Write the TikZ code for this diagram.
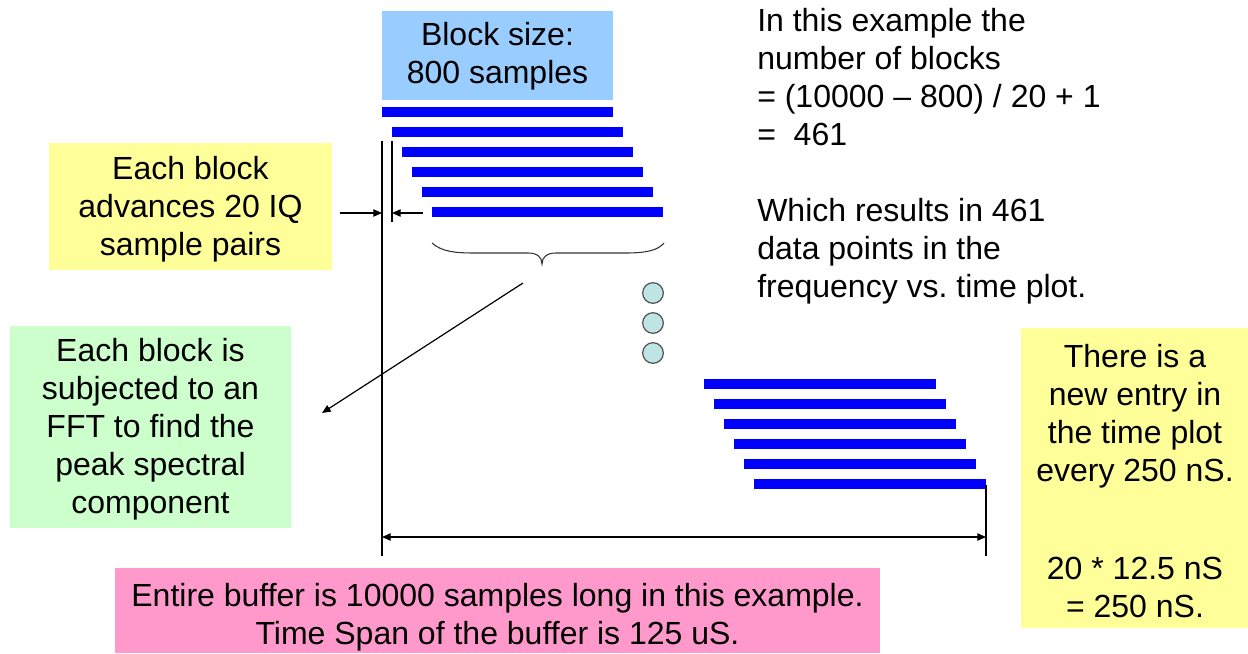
\documentclass[tikz,border=0pt]{standalone}
\usepackage{fontspec}
\setmainfont{Liberation Sans}
\usetikzlibrary{arrows.meta}
\frenchspacing
\definecolor{boxblue}{HTML}{99CCFF}
\definecolor{boxyellow}{HTML}{FFFF99}
\definecolor{boxgreen}{HTML}{CCFFCC}
\definecolor{boxpink}{HTML}{FF99CC}
\definecolor{barblue}{HTML}{0000FF}
\definecolor{dotfill}{HTML}{BEE4E4}
\definecolor{dotline}{HTML}{505050}
\tikzset{
  txt/.style={font=\fontsize{24}{28.5}\selectfont, align=center, inner sep=0pt, text=black},
  bar/.style={line width=6.9pt, barblue},
  thin/.style={line width=0.9pt, black},
  tip/.style={-{Triangle[length=6.5pt,width=5.5pt]}},
  dot/.style={circle, minimum size=15.5pt, inner sep=0pt, fill=dotfill, draw=dotline, line width=0.9pt}
}
\begin{document}
\begin{tikzpicture}[x=0.75pt,y=-0.75pt]
\useasboundingbox (0,0) rectangle (1248,653);
% coloured boxes
\fill[boxblue] (382,11) rectangle (613,100);
\fill[boxyellow] (49,143) rectangle (332,270);
\fill[boxgreen] (10,326) rectangle (291,528);
\fill[boxpink] (115,568) rectangle (880,653);
\fill[boxyellow] (1021,328) rectangle (1248,628);
% texts
\node[txt] (blk) at (497.5,56) {Block size:\\800 samples};
\node[txt] (adv) at (190.5,209) {Each block\\advances 20 IQ\\sample pairs};
\node[txt] (fft) at (150.5,429.5) {Each block is\\subjected to an\\FFT to find the\\peak spectral\\component};
\node[txt] (buf) at (497.5,617) {Entire buffer is 10000 samples long in this example.\\Time Span of the buffer is 125 uS.};
\node[txt] (ent) at (1135,481) {There is a\\new entry in\\the time plot\\every 250 nS.\\[45pt]20 * 12.5 nS\\= 250 nS.};
\node[txt, align=left, anchor=north west] (num) at (757,8) {In this example the\\number of blocks\\= (10000 -- 800) / 20 + 1\\=\ \ 461\\[28.5pt]Which results in 461\\data points in the\\frequency vs. time plot.};
% bars
\foreach \i in {0,...,5} {
  \draw[bar] (382+10*\i,112+20*\i) -- ++(231,0);
  \draw[bar] (704+10*\i,384+20*\i) -- ++(232,0);
}
% guide lines
\coordinate (la) at (382,141);
\coordinate (lb) at (382,556);
\coordinate (ma) at (392,141);
\coordinate (mb) at (392,222);
\coordinate (ra) at (986,485);
\coordinate (rb) at (986,556);
\draw[thin] (la) -- (lb);
\draw[thin] (ma) -- (mb);
\draw[thin] (ra) -- (rb);
% small advance arrows
\coordinate (aL) at (340,213);
\coordinate (aLe) at (382,213);
\coordinate (aR) at (423,213);
\coordinate (aRe) at (392,213);
\draw[thin,tip] (aL) -- (aLe);
\draw[thin,tip] (aR) -- (aRe);
% dimension arrow
\coordinate (dL) at (382,537);
\coordinate (dR) at (986,537);
\draw[thin,{Triangle[length=6.5pt,width=5.5pt]}-{Triangle[length=6.5pt,width=5.5pt]}] (dL) -- (dR);
% brace
\draw[line width=0.8pt, black!80] (432,243) .. controls (442,252) and (456,253) .. (475,253) -- (528,253) .. controls (537,253) and (542,257) .. (542,264) .. controls (542,257) and (547,253) .. (556,253) -- (625,253) .. controls (648,253) and (658,250) .. (664,243);
% diagonal arrow
\coordinate (ds) at (523,283);
\coordinate (de) at (322,413);
\draw[thin,tip] (ds) -- (de);
% dots
\node[dot] (d1) at (653,293) {};
\node[dot] (d2) at (653,323) {};
\node[dot] (d3) at (653,353) {};
\end{tikzpicture}
\end{document}
